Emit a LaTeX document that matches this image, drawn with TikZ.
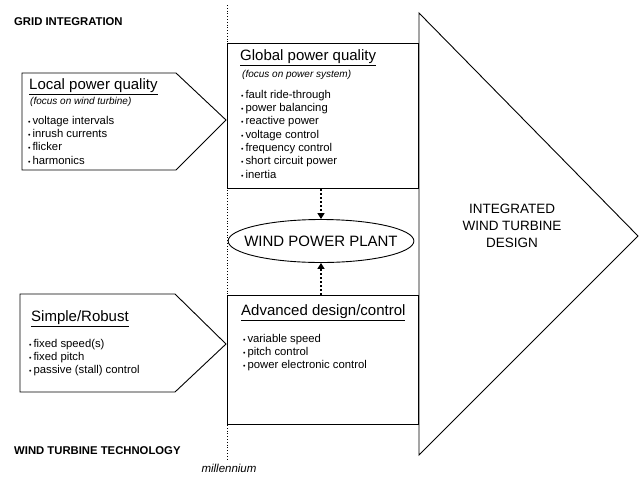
\documentclass[tikz,border=0pt]{standalone}
\usepackage{fontspec}
\setmainfont{Liberation Sans}
\usetikzlibrary{arrows.meta, positioning, shapes.geometric}

\newcommand{\bul}{{\scriptsize\textbullet}\,}

\begin{document}
\begin{tikzpicture}[
    x=1pt, y=-1pt,
    outline/.style={draw, line width=0.9pt},
    box/.style={
        rectangle,
        outline,
        anchor=north west,
        inner sep=0pt,
        minimum width=191pt
    },
    ttl/.style={anchor=west, inner sep=0pt, font=\fontsize{15}{17}\selectfont},
    subttl/.style={anchor=west, inner sep=0pt, font=\fontsize{10}{12}\selectfont\itshape},
    items/.style={anchor=north west, inner sep=0pt, align=left, font=\fontsize{11.3}{13.3}\selectfont},
    header/.style={anchor=west, inner sep=0pt, font=\fontsize{11.3}{13}\selectfont\bfseries},
    arrow/.style={-{Triangle[length=6pt, width=7pt]}, line width=2pt, dash pattern=on 2pt off 2pt}
]

\useasboundingbox (0,0) rectangle (639,477);

% axis of time
\coordinate (mtop) at (227,5);
\coordinate (mbot) at (227,460);
\draw[dotted, line width=0.8pt] (mtop) -- (mbot);
\node[anchor=north, inner sep=0pt, font=\fontsize{11.5}{13}\selectfont\itshape] (mill) at (229,464) {millennium};

\node[header] (grid) at (14,22) {GRID INTEGRATION};
\node[header] (wtt) at (14,451) {WIND TURBINE TECHNOLOGY};

% left arrows
\draw[outline, fill=white] (22,73) -- (176,73) -- (226,120) -- (176,170) -- (22,170) -- cycle;
\node[ttl] (localT) at (29,87) {\underline{Local power quality}};
\node[subttl] (localS) at (30,102) {(focus on wind turbine)};
\node[items] (localL) at (28,116) {\bul voltage intervals\\ \bul inrush currents\\ \bul flicker\\ \bul harmonics};

\draw[outline, fill=white] (20,294) -- (175,294) -- (226,344) -- (175,392) -- (20,392) -- cycle;
\node[ttl] (simpleT) at (31,319) {\underline{Simple/Robust}};
\node[items] (simpleL) at (29,339) {\bul fixed speed(s)\\ \bul fixed pitch\\ \bul passive (stall) control};

% middle boxes
\node[box, minimum height=145pt, fill=white] (global) at (227,43) {};
\node[ttl] (globalT) at (240,58) {\underline{Global power quality}};
\node[subttl] (globalS) at (242,75) {(focus on power system)};
\node[items] (globalL) at (241,90) {\bul fault ride-through\\ \bul power balancing\\ \bul reactive power\\ \bul voltage control\\ \bul frequency control\\ \bul short circuit power\\ \bul inertia};

\node[box, minimum height=129pt, fill=white] (advanced) at (227,295) {};
\node[ttl] (advancedT) at (241,313) {\underline{Advanced design/control}};
\node[items] (advancedL) at (243,334) {\bul variable speed\\ \bul pitch control\\ \bul power electronic control};

\node[ellipse, outline, fill=white, inner xsep=-11pt, inner ysep=6pt,
      minimum height=43pt, font=\fontsize{15}{17}\selectfont] (plant) at (321,241) {WIND POWER PLANT};

\draw[arrow] (global.south -| plant.north) -- (plant.north);
\draw[arrow] (advanced.north -| plant.south) -- (plant.south);

% result
\draw[outline] (419,13) -- (638,236) -- (419,455) -- cycle;
\node[align=center, font=\fontsize{13.5}{17}\selectfont] (design) at (512,226) {INTEGRATED\\WIND TURBINE\\DESIGN};

\end{tikzpicture}
\end{document}
